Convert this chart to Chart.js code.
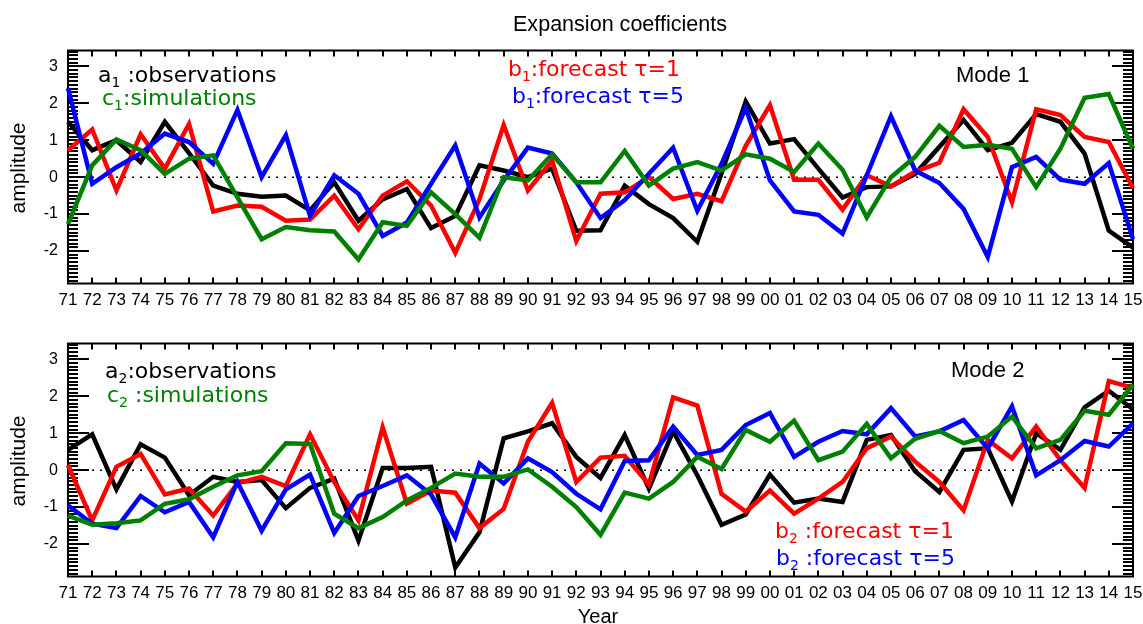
<!DOCTYPE html>
<html>
<head>
<meta charset="utf-8">
<script src="https://cdn.jsdelivr.net/npm/chart.js@4.4.1/dist/chart.umd.min.js"></script>
<style>
  html, body { margin: 0; padding: 0; background: #fff; }
  #wrap { position: relative; width: 1143px; height: 624px; overflow: hidden; }
  canvas { position: absolute; left: 0; }
  #topPanel { top: 0; }
  #bottomPanel { top: 293px; }
</style>
</head>
<body>
<div id="wrap">
  <canvas id="topPanel" width="1143" height="331"></canvas>
  <canvas id="bottomPanel" width="1143" height="331"></canvas>
</div>
<script>
// years 1971 .. 2015, two-digit labels
const years = ['71','72','73','74','75','76','77','78','79','80','81','82','83','84','85',
  '86','87','88','89','90','91','92','93','94','95','96','97','98','99','00',
  '01','02','03','04','05','06','07','08','09','10','11','12','13','14','15'];

const yTicks = [-2, -1, 0, 1, 2, 3];

// Mode 1
const a1 = [1.5, 0.73, 1.0, 0.41, 1.5, 0.65, -0.23, -0.45, -0.53, -0.5, -0.9, -0.14, -1.18, -0.6, -0.32,
  -1.38, -1.05, 0.32, 0.18, 0.0, 0.23, -1.45, -1.44, -0.23, -0.73, -1.11, -1.75, 0.1, 2.05, 0.91,
  1.03, 0.23, -0.55, -0.27, -0.25, 0.09, 0.82, 1.55, 0.73, 0.93, 1.71, 1.5, 0.64, -1.45, -1.91];
const b1Tau1 = [0.73, 1.29, -0.36, 1.16, 0.23, 1.44, -0.93, -0.77, -0.8, -1.18, -1.15, -0.5, -1.41, -0.5, -0.11,
  -0.77, -2.05, -0.6, 1.41, -0.36, 0.45, -1.73, -0.45, -0.41, 0.0, -0.59, -0.45, -0.65, 0.85, 1.95,
  -0.07, -0.07, -0.88, 0.05, -0.25, 0.15, 0.39, 1.84, 1.09, -0.68, 1.84, 1.68, 1.09, 0.95, -0.3];
const b1Tau5 = [2.41, -0.18, 0.27, 0.64, 1.18, 0.95, 0.36, 1.82, 0.0, 1.14, -1.05, 0.05, -0.45, -1.59, -1.23,
  -0.18, 0.86, -1.09, -0.09, 0.8, 0.64, -0.14, -1.11, -0.62, 0.09, 0.8, -0.91, 0.36, 1.88, -0.09,
  -0.93, -1.02, -1.53, 0.05, 1.65, 0.18, -0.16, -0.86, -2.16, 0.27, 0.55, -0.07, -0.18, 0.38, -1.68];
const c1 = [-1.27, 0.32, 1.02, 0.73, 0.09, 0.5, 0.59, -0.55, -1.68, -1.35, -1.44, -1.47, -2.23, -1.22, -1.32,
  -0.41, -1.0, -1.64, 0.0, -0.09, 0.62, -0.14, -0.14, 0.71, -0.23, 0.23, 0.41, 0.18, 0.62, 0.5,
  0.14, 0.91, 0.2, -1.09, 0.0, 0.55, 1.39, 0.82, 0.88, 0.77, -0.27, 0.77, 2.15, 2.25, 0.77];

// Mode 2
const a2 = [0.55, 0.97, -0.52, 0.7, 0.34, -0.68, -0.18, -0.32, -0.27, -1.03, -0.48, -0.23, -1.91, 0.06, 0.06,
  0.09, -2.64, -1.68, 0.86, 1.05, 1.27, 0.36, -0.21, 0.95, -0.5, 1.05, -0.14, -1.48, -1.2, -0.12,
  -0.88, -0.77, -0.86, 0.82, 0.95, -0.03, -0.59, 0.55, 0.59, -0.85, 1.0, 0.55, 1.7, 2.15, 1.65];
const b2Tau1 = [0.14, -1.36, 0.09, 0.44, -0.66, -0.5, -1.23, -0.36, -0.18, -0.43, 0.97, -0.32, -1.36, 1.16, -0.91,
  -0.55, -0.61, -1.57, -1.05, 0.77, 1.82, -0.32, 0.34, 0.39, -0.39, 1.97, 1.75, -0.64, -1.12, -0.55,
  -1.18, -0.77, -0.32, 0.59, 0.91, 0.23, -0.32, -1.09, 0.82, 0.32, 1.18, 0.27, -0.48, 2.41, 2.23];
const b2Tau5 = [-0.95, -1.45, -1.57, -0.7, -1.14, -0.86, -1.82, -0.32, -1.64, -0.52, -0.12, -1.7, -0.7, -0.43, -0.14,
  -0.66, -1.82, 0.18, -0.36, 0.32, -0.05, -0.64, -1.06, 0.25, 0.27, 1.18, 0.41, 0.55, 1.22, 1.55,
  0.36, 0.77, 1.06, 0.97, 1.68, 0.91, 1.05, 1.36, 0.59, 1.73, -0.14, 0.27, 0.79, 0.64, 1.27];
const c2 = [-1.23, -1.48, -1.44, -1.36, -0.91, -0.79, -0.45, -0.14, -0.03, 0.73, 0.71, -1.18, -1.57, -1.27, -0.82,
  -0.48, -0.09, -0.18, -0.18, 0.02, -0.45, -1.0, -1.75, -0.61, -0.77, -0.32, 0.36, 0.03, 1.09, 0.77,
  1.34, 0.27, 0.5, 1.25, 0.32, 0.85, 1.06, 0.73, 0.91, 1.45, 0.59, 0.82, 1.61, 1.5, 2.32];

const RED = '#ff0000', BLUE = '#0000ff', GREEN = '#008000', BLACK = '#000000';
const SANS = '"Liberation Sans", Arial, sans-serif';
const LEGEND_FONT = '"DejaVu Sans", sans-serif';

// text with a subscript: parts are [text, isSubscript]
function drawRich(ctx, parts, x, y, color) {
  ctx.fillStyle = color;
  ctx.textAlign = 'left';
  ctx.textBaseline = 'alphabetic';
  let cx = x;
  for (const [txt, sub] of parts) {
    ctx.font = sub ? '14px ' + LEGEND_FONT : '22px ' + LEGEND_FONT;
    ctx.fillText(txt, cx, sub ? y + 5 : y);
    cx += ctx.measureText(txt).width;
  }
}

// frame with inward ticks + dotted zero line, like the IDL plot
const framePlugin = {
  id: 'frame',
  beforeDatasetsDraw(chart) {
    const { ctx, chartArea: a, scales: { x, y } } = chart;
    ctx.save();
    ctx.strokeStyle = '#000';

    ctx.lineWidth = 1.5;
    ctx.setLineDash([2, 6]);
    const y0 = y.getPixelForValue(0);
    ctx.beginPath();
    ctx.moveTo(a.left, y0);
    ctx.lineTo(a.right, y0);
    ctx.stroke();
    ctx.setLineDash([]);

    ctx.lineWidth = 2;
    ctx.beginPath();
    for (let v = Math.ceil(y.min * 10); v <= Math.floor(y.max * 10); v++) {
      const py = Math.round(y.getPixelForValue(v / 10));
      const len = v % 10 === 0 ? 21 : 10;
      ctx.moveTo(a.left, py); ctx.lineTo(a.left + len, py);
      ctx.moveTo(a.right, py); ctx.lineTo(a.right - len, py);
    }
    years.forEach((_, i) => {
      const px = Math.round(x.getPixelForValue(i));
      ctx.moveTo(px, a.top); ctx.lineTo(px, a.top + 6);
      ctx.moveTo(px, a.bottom); ctx.lineTo(px, a.bottom - 6);
    });
    ctx.stroke();
    ctx.strokeRect(a.left, a.top, a.right - a.left, a.bottom - a.top);
    ctx.restore();
  },
  afterDatasetsDraw(chart, args, opts) {
    const ctx = chart.ctx;
    ctx.save();
    (opts.labels || []).forEach(l => drawRich(ctx, l.parts, l.x, l.y, l.color));

    ctx.fillStyle = '#000';
    ctx.font = '22px ' + SANS;
    ctx.textAlign = 'left';
    ctx.fillText(opts.mode.text, opts.mode.x, opts.mode.y);

    // y axis title
    ctx.save();
    ctx.translate(19, 168);
    ctx.rotate(-Math.PI / 2);
    ctx.font = '21px ' + SANS;
    ctx.textAlign = 'center';
    ctx.textBaseline = 'middle';
    ctx.fillText('amplitude', 0, 0);
    ctx.restore();

    if (opts.title) {
      ctx.font = '22px ' + SANS;
      ctx.textAlign = 'center';
      ctx.textBaseline = 'alphabetic';
      ctx.fillText(opts.title, 620, 31, 214);
    }
    if (opts.xTitle) {
      ctx.font = '20px ' + SANS;
      ctx.textAlign = 'center';
      ctx.textBaseline = 'alphabetic';
      ctx.fillText(opts.xTitle, 598, 330);
    }
    ctx.restore();
  }
};

function series(data, color, order) {
  return {
    data, borderColor: color, backgroundColor: color, borderWidth: 4.5,
    pointRadius: 0, tension: 0, fill: false, order
  };
}

function makePanel(canvasId, obs, fc1, fc5, sim, decor) {
  return new Chart(document.getElementById(canvasId), {
    type: 'line',
    data: {
      labels: years,
      datasets: [
        series(obs, BLACK, 4),
        series(fc1, RED, 3),
        series(fc5, BLUE, 2),
        series(sim, GREEN, 1)
      ]
    },
    options: {
      responsive: false,
      animation: false,
      events: [],
      layout: { padding: { top: 50.5, right: 10, left: 0, bottom: 0 } },
      scales: {
        x: {
          type: 'category',
          offset: false,
          grid: { display: false, drawTicks: false },
          border: { display: false },
          ticks: {
            autoSkip: false, maxRotation: 0, minRotation: 0, padding: 7,
            color: '#000', font: { family: SANS, size: 17 }
          },
          afterFit: s => { s.height = 47.5; s.paddingLeft = 0; s.paddingRight = 0; }
        },
        y: {
          min: -2.88,
          max: 3.43,
          grid: { display: false, drawTicks: false },
          border: { display: false },
          ticks: {
            padding: 10, color: '#000', font: { family: SANS, size: 16 },
            callback: v => String(v)
          },
          afterBuildTicks: s => { s.ticks = yTicks.map(v => ({ value: v })); },
          afterFit: s => { s.width = 68; s.paddingTop = 0; s.paddingBottom = 0; }
        }
      },
      plugins: {
        legend: { display: false },
        tooltip: { enabled: false },
        frame: decor
      }
    },
    plugins: [framePlugin]
  });
}

makePanel('topPanel', a1, b1Tau1, b1Tau5, c1, {
  title: 'Expansion coefficients',
  mode: { text: 'Mode 1', x: 956, y: 82 },
  labels: [
    { parts: [['a', false], ['1', true], [' :observations', false]], x: 98, y: 82, color: BLACK },
    { parts: [['c', false], ['1', true], [':simulations', false]], x: 102, y: 105, color: GREEN },
    { parts: [['b', false], ['1', true], [':forecast \u03c4=1', false]], x: 508, y: 76, color: RED },
    { parts: [['b', false], ['1', true], [':forecast \u03c4=5', false]], x: 512, y: 103, color: BLUE }
  ]
});

makePanel('bottomPanel', a2, b2Tau1, b2Tau5, c2, {
  xTitle: 'Year',
  mode: { text: 'Mode 2', x: 951, y: 84 },
  labels: [
    { parts: [['a', false], ['2', true], [':observations', false]], x: 105, y: 85, color: BLACK },
    { parts: [['c', false], ['2', true], [' :simulations', false]], x: 107, y: 109, color: GREEN },
    { parts: [['b', false], ['2', true], [' :forecast \u03c4=1', false]], x: 775, y: 245, color: RED },
    { parts: [['b', false], ['2', true], [' :forecast \u03c4=5', false]], x: 776, y: 272, color: BLUE }
  ]
});
</script>
</body>
</html>
